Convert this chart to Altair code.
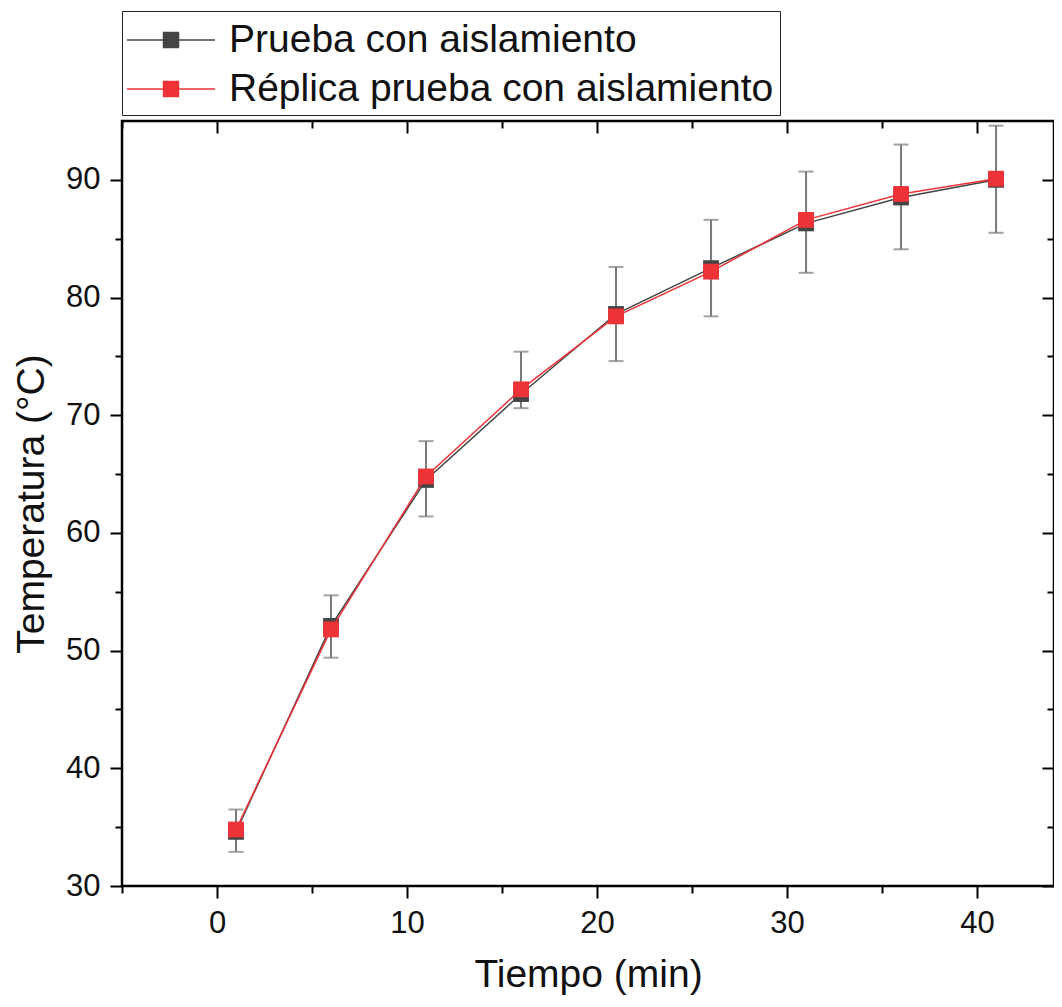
import altair as alt
import pandas as pd

# ---- data ----
tiempo = [1, 6, 11, 16, 21, 26, 31, 36, 41]
prueba = [34.6, 52.1, 64.5, 71.8, 78.6, 82.5, 86.3, 88.5, 90.0]
replica = [34.8, 51.8, 64.8, 72.2, 78.4, 82.2, 86.6, 88.8, 90.1]
err_low = [32.9, 49.4, 61.4, 70.6, 74.6, 78.4, 82.1, 84.1, 85.5]
err_high = [36.5, 54.7, 67.8, 75.4, 82.6, 86.6, 90.7, 93.0, 94.6]

series_names = ["Prueba con aislamiento", "Réplica prueba con aislamiento"]
series_colors = ["#444444", "#ee3338"]

major_x = [0, 10, 20, 30, 40]
minor_x = [-5, 5, 15, 25, 35]
major_y = [30, 40, 50, 60, 70, 80, 90]
minor_y = [35, 45, 55, 65, 75, 85]

df = pd.DataFrame({
    "t": tiempo * 2,
    "temp": prueba + replica,
    "serie": [series_names[0]] * len(tiempo) + [series_names[1]] * len(tiempo),
})
df_err = pd.DataFrame({"t": tiempo, "lo": err_low, "hi": err_high})

FONT = "Liberation Sans"
xs = alt.Scale(domain=[-5, 44.05], nice=False, zero=False)
ys = alt.Scale(domain=[30, 95], nice=False, zero=False)

MAJ, MIN = 12, 7


def axis(orient, values, size, labels=False, title=None, offset=0, title_pad=4):
    kw = dict(orient=orient, values=values, tickSize=size, labels=labels,
              domain=False, grid=False, tickColor="black", tickWidth=2,
              offset=offset, title=title)
    if labels:
        kw.update(labelFont=FONT, labelFontSize=31, labelColor="#111111",
                  labelPadding=10, format="d", labelOverlap=False)
    if title:
        kw.update(titleFont=FONT, titleFontSize=39, titleFontWeight="normal",
                  titleColor="#111111", titlePadding=title_pad)
    return alt.Axis(**kw)


legend = alt.Legend(
    title=None, orient="none", legendX=0, legendY=-110,
    symbolType="M-2,0L2,0M-0.34,-0.34L0.34,-0.34L0.34,0.34L-0.34,0.34Z",
    symbolSize=1936, symbolStrokeWidth=1.5, symbolOffset=20,
    labelFont=FONT, labelFontSize=39, labelColor="#111111", labelOffset=35,
    labelLimit=1000, strokeColor="#222222", fillColor="white",
    padding=6, rowPadding=6,
)
color = alt.Color("serie:N", scale=alt.Scale(domain=series_names, range=series_colors),
                  legend=legend)

base = alt.Chart(df)
err = alt.Chart(df_err)

err_rule = err.mark_rule(color="#7a7a7a", strokeWidth=2).encode(
    x=alt.X("t:Q", scale=xs, axis=None),
    y=alt.Y("lo:Q", scale=ys, axis=None),
    y2="hi:Q",
)
cap_lo = err.mark_tick(color="#7a7a7a", orient="horizontal", size=15, thickness=2).encode(
    x=alt.X("t:Q", scale=xs, axis=None), y=alt.Y("lo:Q", scale=ys, axis=None))
cap_hi = err.mark_tick(color="#7a7a7a", orient="horizontal", size=15, thickness=2).encode(
    x=alt.X("t:Q", scale=xs, axis=None), y=alt.Y("hi:Q", scale=ys, axis=None))

black_line = base.transform_filter(alt.datum.serie == series_names[0]).mark_line(
    strokeWidth=1.5).encode(
    x=alt.X("t:Q", scale=xs, axis=axis("bottom", major_x, MAJ, True, "Tiempo (min)", title_pad=17)),
    y=alt.Y("temp:Q", scale=ys, axis=axis("left", major_y, MAJ, True, "Temperatura (°C)", title_pad=14)),
    color=color,
)
black_pts = base.transform_filter(alt.datum.serie == series_names[0]).mark_point(
    shape="square", filled=True, size=250, opacity=1).encode(
    x=alt.X("t:Q", scale=xs, axis=axis("bottom", minor_x, MIN)),
    y=alt.Y("temp:Q", scale=ys, axis=axis("left", minor_y, MIN)),
    color=color,
)
red_line = base.transform_filter(alt.datum.serie == series_names[1]).mark_line(
    strokeWidth=1.5).encode(
    x=alt.X("t:Q", scale=xs, axis=axis("top", major_x, MAJ, offset=-MAJ)),
    y=alt.Y("temp:Q", scale=ys, axis=axis("right", major_y, MAJ, offset=-MAJ)),
    color=color,
)
red_pts = base.transform_filter(alt.datum.serie == series_names[1]).mark_point(
    shape="square", filled=True, size=250, opacity=1).encode(
    x=alt.X("t:Q", scale=xs, axis=axis("top", minor_x, MIN, offset=-MIN)),
    y=alt.Y("temp:Q", scale=ys, axis=axis("right", minor_y, MIN, offset=-MIN)),
    color=color,
)

chart = alt.layer(
    err_rule, cap_lo, cap_hi, black_line, black_pts, red_line, red_pts
).resolve_axis(
    x="independent", y="independent"
).properties(
    width=932, height=765,
    background="white",
    autosize=alt.AutoSizeParams(type="none"),
    padding={"left": 114, "top": 113, "right": 0, "bottom": 112},
).configure_view(
    stroke="black", strokeWidth=2.5
)

chart.save("out.html", embed_options={"renderer": "svg", "actions": False})
